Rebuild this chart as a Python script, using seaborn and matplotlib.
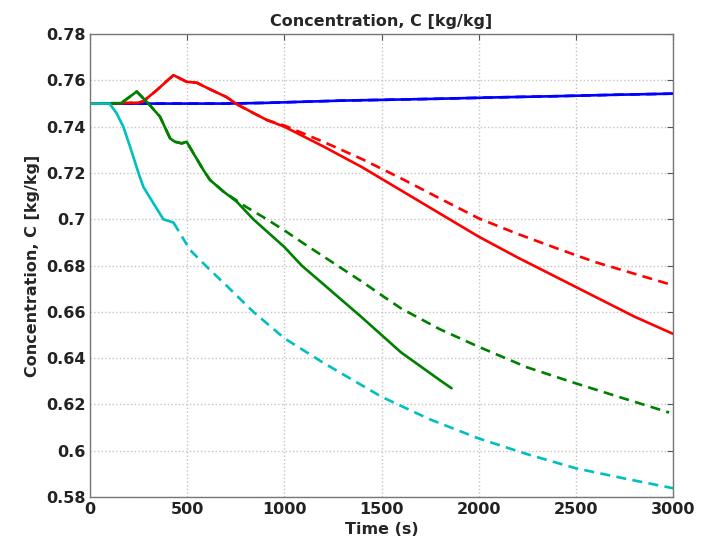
import seaborn as sns
import matplotlib.pyplot as plt
import pandas as pd
import numpy as np

# Blue (solid and dashed lie on top of each other)
t_blue = [0, 700, 900, 1100, 1300, 1500, 1800, 2100, 2400, 2700, 3000]
c_blue = [0.75, 0.75, 0.7503, 0.7508, 0.7513, 0.7516, 0.7521, 0.7527, 0.7532, 0.7538, 0.7543]

# Red
t_red = [0, 100, 250, 274, 343, 429, 497, 549, 609, 700, 760, 850, 910, 1000,
         1200, 1400, 1600, 1800, 2000, 2200, 2400, 2600, 2800, 3000]
c_red = [0.75, 0.75, 0.7504, 0.751, 0.7558, 0.7623, 0.7594, 0.759, 0.7565, 0.7529, 0.7495, 0.7455, 0.7429, 0.740,
         0.7315, 0.7225, 0.7125, 0.7025, 0.6925, 0.6835, 0.675, 0.6665, 0.658, 0.6505]
t_red_d = [0, 100, 250, 274, 343, 429, 497, 549, 609, 700, 760, 850, 910, 1000,
           1200, 1400, 1600, 1800, 2000, 2200, 2400, 2600, 2800, 2980]
c_red_d = [0.75, 0.75, 0.7504, 0.751, 0.7558, 0.7623, 0.7594, 0.759, 0.7565, 0.7529, 0.7495, 0.7455, 0.7429, 0.7405,
           0.7335, 0.726, 0.7177, 0.709, 0.7004, 0.6937, 0.6875, 0.6815, 0.6765, 0.672]

# Green
t_green = [0, 160, 240, 300, 360, 412, 437, 472, 497, 532, 583, 617, 686, 755, 840,
           1000, 1089, 1200, 1400, 1600, 1800, 1860]
c_green = [0.75, 0.7502, 0.7552, 0.750, 0.7443, 0.7349, 0.7335, 0.7328, 0.7335, 0.7285, 0.7213, 0.717, 0.712, 0.7076, 0.700,
           0.688, 0.680, 0.672, 0.6575, 0.6425, 0.6305, 0.627]
t_green_d = [0, 160, 240, 300, 360, 412, 437, 472, 497, 532, 583, 617, 686, 800, 900,
             1000, 1100, 1200, 1300, 1400, 1500, 1600, 1800, 2000, 2250, 2500, 2750, 2980]
c_green_d = [0.75, 0.7502, 0.7552, 0.750, 0.7443, 0.7349, 0.7335, 0.7328, 0.7335, 0.7285, 0.7213, 0.717, 0.712, 0.7055, 0.7005,
             0.6952, 0.6895, 0.684, 0.6785, 0.673, 0.6672, 0.6615, 0.6525, 0.6449, 0.636, 0.6291, 0.6225, 0.6165]

# Cyan
t_cyan = [0, 100, 135, 171, 206, 249, 274, 326, 377, 429]
c_cyan = [0.75, 0.75, 0.746, 0.740, 0.7313, 0.720, 0.714, 0.7069, 0.700, 0.6986]
t_cyan_d = [429, 515, 600, 700, 840, 1000, 1200, 1500, 1750, 2000, 2250, 2500, 2750, 3000]
c_cyan_d = [0.6986, 0.6867, 0.6795, 0.6715, 0.66, 0.6486, 0.638, 0.6233, 0.6135, 0.6053, 0.5985, 0.5924, 0.588, 0.5838]

series = [
    (t_blue, c_blue, '#0000ff', 'dashed'),
    (t_red_d, c_red_d, '#ff0000', 'dashed'),
    (t_green_d, c_green_d, '#008000', 'dashed'),
    (t_cyan_d, c_cyan_d, '#00bfbf', 'dashed'),
    (t_blue, c_blue, '#0000ff', 'solid'),
    (t_red, c_red, '#ff0000', 'solid'),
    (t_green, c_green, '#008000', 'solid'),
    (t_cyan, c_cyan, '#00bfbf', 'solid'),
]

sns.set_style('white')
plt.rcParams['font.family'] = ['DejaVu Sans']

fig = plt.figure(figsize=(7.04, 5.51), dpi=100)
ax = fig.add_axes([0.128, 0.098, 0.828, 0.840])

for t, c, col, ls in series:
    df = pd.DataFrame({'Time': t, 'C': c})
    if ls == 'dashed':
        sns.lineplot(data=df, x='Time', y='C', ax=ax, color=col, linewidth=1.9,
                     dashes=False, linestyle=(0, (3.8, 2.4)))
    else:
        sns.lineplot(data=df, x='Time', y='C', ax=ax, color=col, linewidth=1.9)

ax.set_xlim(0, 3000)
ax.set_ylim(0.58, 0.78)
ax.set_xticks(np.arange(0, 3001, 500))
ax.set_yticks(np.arange(0.58, 0.781, 0.02))
ax.set_xticklabels(['0', '500', '1000', '1500', '2000', '2500', '3000'])
ax.set_yticklabels(['0.58', '0.6', '0.62', '0.64', '0.66', '0.68', '0.7', '0.72', '0.74', '0.76', '0.78'])

ax.grid(True, linestyle=':', color='#c4c4c4', linewidth=1.0)
ax.tick_params(direction='in', top=True, right=True, length=4, color='#555555',
               labelsize=11.5, labelcolor='#222222')
for lab in ax.get_xticklabels() + ax.get_yticklabels():
    lab.set_fontweight('bold')
for sp in ax.spines.values():
    sp.set_color('#777777')
    sp.set_linewidth(1.0)

ax.set_title('Concentration, C [kg/kg]', fontsize=11.5, fontweight='bold', pad=6)
ax.set_xlabel('Time (s)', fontsize=11.5, fontweight='bold', labelpad=4)
ax.set_ylabel('Concentration, C [kg/kg]', fontsize=11.5, fontweight='bold', labelpad=4)

plt.savefig('out.png', dpi=100)
